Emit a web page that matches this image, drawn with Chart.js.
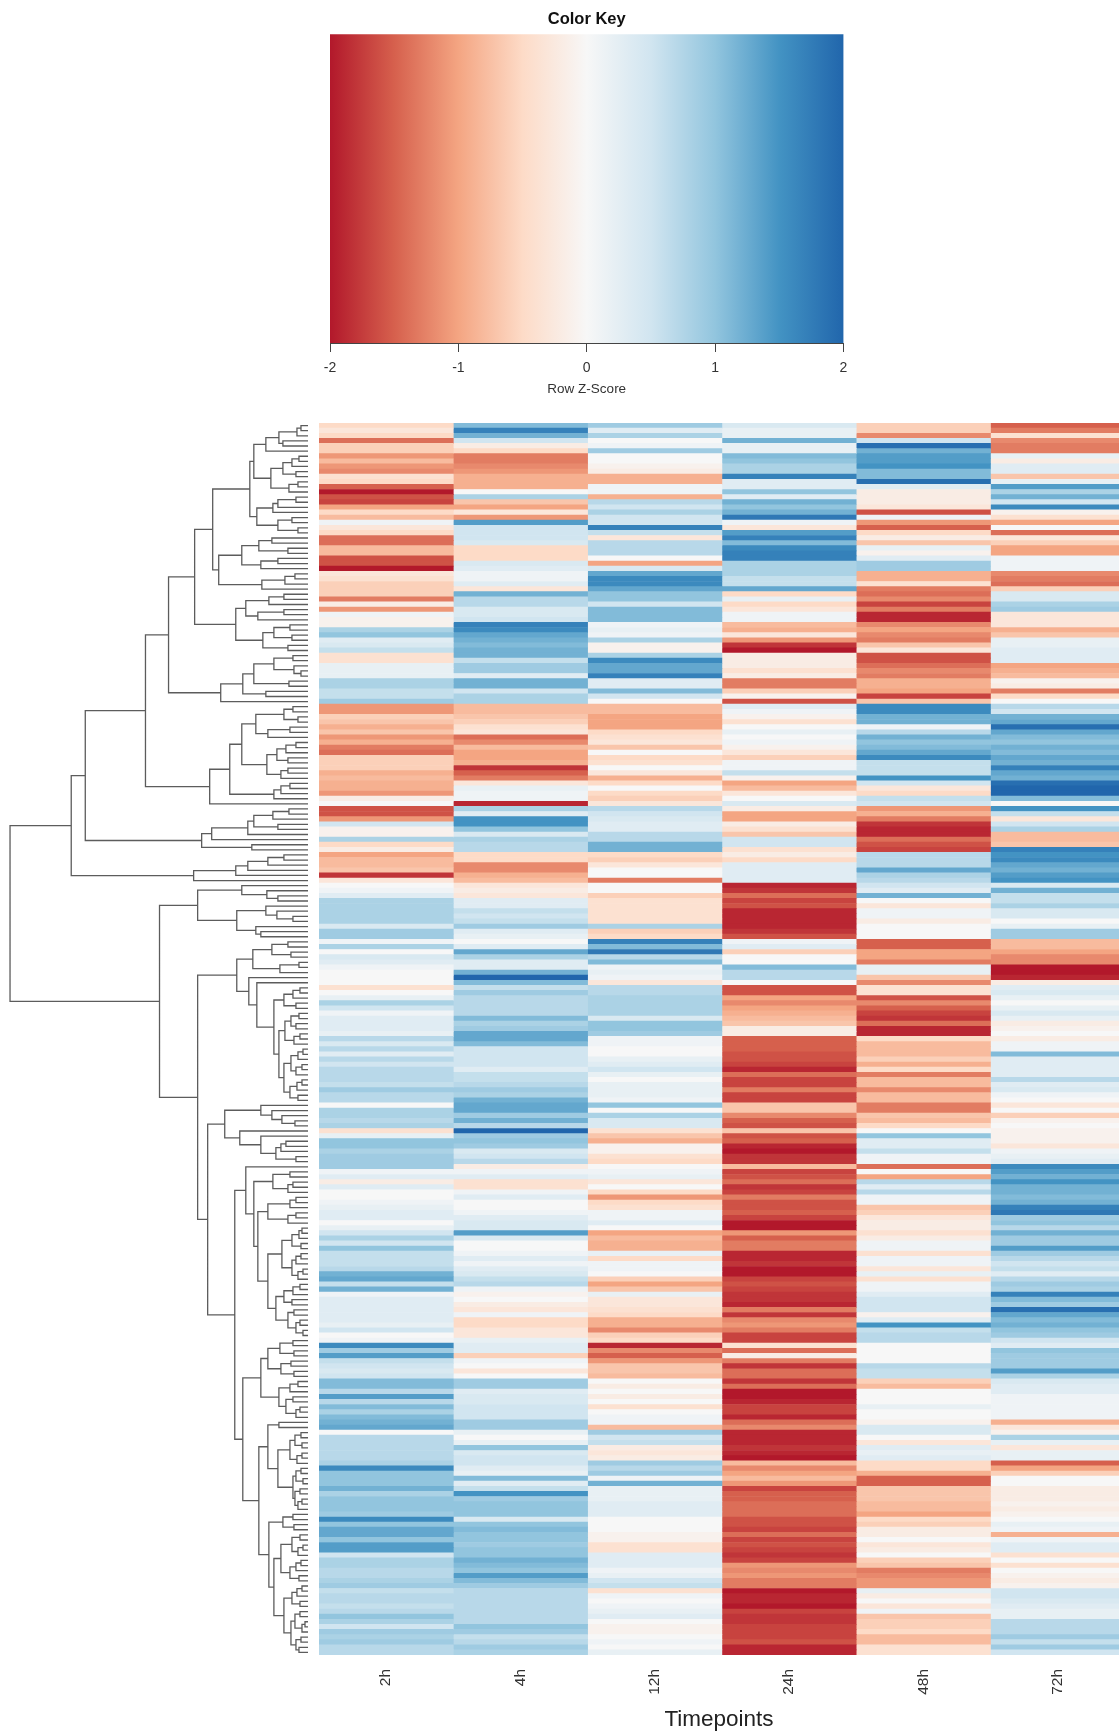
<!DOCTYPE html>
<html>
<head>
<meta charset="utf-8">
<title>Color Key</title>
<script src="https://cdn.jsdelivr.net/npm/chart.js@4/dist/chart.umd.min.js"></script>
<style>
    html, body { margin: 0; padding: 0; background: #fff; overflow: hidden; }
    canvas { position: absolute; filter: blur(0.6px); }
    #key { left: 300px; top: 0; }
    #tree { left: 0; top: 423.3px; }
    #heat { left: 319px; top: 423.3px; }
</style>
</head>
<body>
<canvas id="key" width="575" height="410"></canvas>
<canvas id="tree" width="308" height="1232"></canvas>
<canvas id="heat" width="800" height="1310"></canvas>
<script>
"use strict";

var timepoints = ["2h", "4h", "12h", "24h", "48h", "72h"];

// key stops, z-score and colour
var zStops = [-2, -1.5, -1, -0.5, 0, 0.5, 1, 1.5, 2];
var zColors = ["#b2182b", "#d6604d", "#f4a582", "#fddbc7", "#f7f7f7", "#d1e5f0", "#92c5de", "#4393c3", "#2166ac"];
var keyTicks = [-2, -1, 0, 1, 2];

// row z-scores per timepoint, top row first, ten rows a line
var z2h = [
    -.5,-.3,-.5,-1.4,-.6,-.6,-1.1,-.8,-1.1,-1.2,
    -.4,-.5,-1.5,-2,-1.6,-1.7,-1,-.5,-.8,.1,
    -.3,-.5,-1.4,-1.4,-.8,-.8,-1.6,-1.6,-2,-.3,
    -.4,-.6,-.6,-.6,-1.3,-.2,-1.1,.1,-.1,-.1,
    .8,1,.3,.4,.6,-.4,-.4,.2,.2,.2,
    .8,.8,.6,.6,.9,-1.1,-1.1,-.6,-.7,-.9,
    -.7,-1.1,-.9,-1.3,-1.4,-.6,-.6,-.6,-.9,-.8,
    -.9,-.9,-1.1,-.2,0,-1.6,-1.6,-1.1,.5,-.1,
    -.1,.8,-.5,-.2,-1,-.8,-.8,-.7,-1.8,-.3,
    0,.1,.3,.8,.8,.8,.8,.8,.4,.9,
    .9,.1,.8,0,.4,.3,.1,0,0,0,
    -.4,0,.2,.8,.5,.1,.3,.3,.3,.2,
    .7,.4,.7,.3,.7,.5,.7,.7,.7,.6,
    .9,.7,.7,0,.8,.8,.7,.8,-.4,.2,
    1,1,.8,.9,.9,.9,.1,.3,-.2,.3,
    0,0,.1,.2,.3,.3,0,.2,.5,.8,
    .5,1,.6,.6,.6,.7,1.2,1.3,.6,1.2,
    .1,.3,.3,.3,.3,.3,.2,.5,0,.1,
    1.6,.9,1.4,.6,.5,.4,.5,1.1,1.1,.7,
    1.4,.7,1.1,.8,1.1,1.2,1.3,0,.7,.7,
    .7,.7,.7,.8,1.6,1,1,1,1.2,.8,
    1,1,1,.9,1.6,1,1.3,1.3,1,1.4,
    1.4,.5,.8,.8,.7,.7,.8,.9,.6,.7,
    .7,.6,.7,1,.8,.5,.9,.8,.9,.7,
    .7
];
var z4h = [
    1.1,1.7,1.2,.5,-.2,-.5,-1.3,-1.3,-1.2,-1.1,
    -.9,-.9,-.9,0,.8,-.7,-1,-.3,-1.1,1.4,
    .5,.5,.5,.4,-.5,-.5,-.5,.4,.3,.1,
    .1,.3,-.3,1.2,.7,.7,.4,.4,.5,1.7,
    1.6,1.3,1.2,1.1,1.2,1.2,.6,.9,.9,.3,
    1.2,1.2,.5,.8,.8,-.8,-.8,-.7,-.6,-.4,
    -.3,-1.4,-1.2,-.8,-1,-1,-.9,-1.8,-1.5,-1.3,
    -.3,.2,.1,.1,-1.9,.8,.3,1.5,1.5,1,
    .4,.8,.7,.7,-.5,-.5,-1.2,-1.2,-.9,-.8,
    -.3,-.2,-.3,.3,.3,.6,.5,.6,.9,.3,
    .2,0,.3,1.3,.8,.3,.3,1.2,2,1.1,
    .6,.9,.7,.7,.7,.7,1.1,.8,.9,1.3,
    1.3,1.1,.5,.5,.5,.5,.3,.6,.6,.7,
    .9,.8,1.2,1.3,1.3,.9,1.2,.7,2,.9,
    1,.9,.4,.5,.7,-.2,.1,.3,-.4,-.4,
    .1,.3,0,0,.1,.3,.4,.4,1.4,.4,
    0,0,.1,.3,.1,.3,.4,.6,.7,.1,
    -.1,0,-.2,-.3,.1,-.5,-.5,-.3,-.3,.2,
    .3,.3,-.6,.1,0,-.3,0,.9,.9,.3,
    .4,.4,.5,.5,.5,.9,.9,.2,0,.2,
    1,.4,.5,.5,.3,.2,1.1,.3,.6,1.5,
    .9,1,1,1,.4,1,1.1,1,1,.9,
    1,1,1.2,1.1,1,1.4,1.1,.9,.7,.7,
    .7,.7,.7,.7,.7,1,.9,.6,.7,.9,
    .8
];
var z12h = [
    .9,.3,.8,0,.1,.9,0,0,-.1,-.2,
    -.9,-.9,.1,.1,-.9,.7,.5,.8,.5,.5,
    1.7,.6,-.3,.7,.7,.7,0,-1,.4,1.3,
    1.6,1.6,1.3,1,1,.5,1.1,1.1,1.1,.1,
    .2,.1,.8,-.1,-.1,.8,1.6,1.3,1.3,1.7,
    .3,.3,1.1,.5,0,-.8,-.8,-1,-1,-1,
    -.5,-.4,-.3,-.7,0,-.5,-.4,0,-.3,-.9,
    -.5,0,-.5,-.6,-.3,.7,.5,.4,.3,.3,
    .7,.7,1.2,1.2,-.5,-.6,-.3,0,0,-1.3,
    0,0,-.6,-.4,-.4,-.4,-.4,-.4,.8,-.6,
    -.5,1.7,1.1,1.8,.7,1.1,.1,.2,.1,-.3,
    .7,.7,.8,.8,.8,.8,.4,1,1,.9,
    .1,.1,0,0,.2,.3,.5,.2,0,.2,
    .2,.2,.1,1,0,.8,.4,.4,-.4,-.7,
    -.9,-.1,-.1,-.4,-.5,0,.1,.2,-.3,0,
    -.5,-1.1,-.5,-.4,.1,.1,.3,0,-1,-.8,
    -.9,-.9,.2,-.5,.1,.1,0,-.6,-1,-.7,
    .2,-.3,-.3,-.4,-.5,-.9,-.9,-1.2,-.6,-.5,
    -1.9,-1.2,-1.5,-1.1,-.7,-.7,-.8,0,-.2,0,
    -.2,0,-.4,0,.1,.1,-.8,.9,.5,.6,
    -.2,-.3,-.2,.9,.7,.9,.1,1.2,.2,.2,
    .2,.3,.3,.3,0,0,0,-.1,-.1,-.4,
    -.4,.3,.3,.3,.1,.2,.5,.6,-.4,.1,
    0,.1,.2,.3,0,-.1,-.1,0,.1,0,
    .2
];
var z24h = [
    .4,.2,.2,1.2,.2,.2,1.1,1,.8,.8,
    1.7,.3,.3,1,.3,1.2,1,1.2,1.8,.1,
    -.3,1.4,1.7,1.1,1.6,1.7,1.7,.8,.8,.8,
    .6,.6,1.3,-.5,.2,-.5,-.3,.1,.1,-.8,
    -.9,-.3,-1.1,-1.8,-2,-.2,-.2,-.2,-.4,-.2,
    -1.3,-1.3,-.6,-.1,-1.6,.3,.1,-.1,-.4,0,
    .2,0,.1,-.1,-.3,-.6,.1,.1,.6,-.1,
    -1,-.8,-.3,0,.4,-.2,-1,-1,-.2,-.4,
    -.7,.5,.5,-.4,-.2,-.5,.3,.3,.3,.3,
    -1.9,-1.8,-1.4,-1.7,-1.6,-1.9,-1.9,-1.9,-1.9,-1.8,
    -1.6,.1,.3,-.6,0,0,1.1,.7,.7,0,
    -1.6,-1.6,-1,-1.2,-1,-.9,-.8,-.7,-.2,-.2,
    -1.5,-1.5,-1.5,-1.6,-1.6,-1.7,-1.9,-1.4,-1.7,-1.7,
    -1.3,-1.7,-1.7,-.7,-.7,-1.2,-1.5,-1.6,-.7,-1.6,
    -1.5,-1.9,-2,-1.8,-1.8,-.8,-1.7,-1.6,-1.4,-1.8,
    -1.7,-1.3,-1.6,-1.6,-1.5,-1.7,-2,-2,-1.1,-1.5,
    -1.3,-1.3,-1.9,-1.9,-1.8,-2,-2,-1.7,-1.6,-1.7,
    -1.8,-1.8,-1.9,-1.3,-1.8,-1.2,-1.1,-1.3,-1.7,-1.7,
    -.4,-1.4,-.2,-1.3,-1.8,-1.4,-1.4,-1.8,-1.4,-2,
    -2,-1.9,-1.7,-1.7,-1.9,-1.4,-1.2,-1.9,-1.9,-1.9,
    -1.8,-1.9,-2,-.8,-1.2,-1,-.8,-1.1,-1.7,-1.5,
    -1.5,-1.4,-1.4,-1.4,-1.6,-1.6,-1.7,-1.4,-1.7,-1.6,
    -1.7,-1.8,-1.7,-1.1,-1.2,-1.1,-1.3,-1.3,-2,-1.9,
    -1.9,-2,-1.7,-1.8,-1.8,-1.7,-1.7,-1.7,-1.6,-1.9,
    -1.9
];
var z48h = [
    -.6,-.6,-1.2,.5,1.9,1.2,1.4,1.4,1.5,1.1,
    1.1,1.9,.3,-.2,-.2,-.2,-.3,-1.6,.1,-1.1,
    -1.5,-.5,-.2,-.7,.2,-.1,.3,.9,.9,-.9,
    -.9,-.4,-1.3,-1.4,-1.2,-1.7,-1.3,-1.9,-1.9,-1.2,
    -1,-1.2,-1.3,-.7,-.3,-1.6,-1.6,-1.4,-1.2,-1.3,
    -.9,-.9,-1,-1.7,-.7,1.6,1.6,1.2,1.2,.1,
    .7,1.2,1,1.1,1.3,1.6,.6,.6,.6,1.5,
    .5,-.3,-.5,.6,.5,-1.1,-.9,-1.3,-1.8,-1.9,
    -1.9,-1.4,-1.6,-1.7,.7,.7,.7,1.3,.8,.7,
    .5,.3,1.2,0,-.3,.1,.1,-.2,0,0,
    0,-1.5,-1.5,-1,-1,-1.3,.2,.2,-.7,-1.2,
    -.4,-.4,-1.6,-1.2,-1.5,-1.7,-1.8,-1.4,-1.9,-1.9,
    -.5,-.8,-.8,-.8,-.6,-.9,-.5,-1.3,-.8,-.8,
    -1.2,-.8,-.8,-1.3,-1.3,-.7,-.8,-.5,0,1,
    .3,.3,.6,.1,.1,-1.4,0,-1,.7,.3,
    .7,.1,.1,-.7,-.6,-.3,-.2,-.2,-.4,-.2,
    .1,.1,-.4,.1,.1,-.3,.2,-.4,.1,.1,
    .3,.5,.5,.5,-.1,.3,1.5,.6,.7,.7,
    0,0,0,0,.7,.6,.6,-.6,-.8,0,
    0,0,.2,0,0,-.1,.4,.4,0,-.3,
    .3,.2,.3,-.5,-.5,-.9,-1.5,-1.5,-.7,-.7,
    -.7,-.8,-.8,-1,-.5,-.6,-.2,-.2,0,-.3,
    -.2,0,-.6,-.7,-1.3,-1.2,-1.1,-1.1,.2,-.2,
    0,-.3,.1,-.7,-.6,-.6,-.5,-.8,-.8,-.4,
    -.4
];
var z72h = [
    -1.5,-1.3,-.4,-1.2,-1.3,-1.3,.2,-.2,.3,.3,
    -.7,.2,1.4,.8,1.2,.5,1.6,-.1,-.4,-1,
    0,-1.4,-.3,-.6,-1,-1,.1,.1,.1,-1.2,
    -1.3,-1.4,-.6,.4,.4,.8,.9,-.3,-.3,-.3,
    -.9,-.7,.2,.2,.3,.3,.3,-1,-.9,-.8,
    -.1,-.2,-1.3,-.5,0,.7,.5,1.2,1.3,1.9,
    1.3,1.1,1,1.2,1.1,1.3,1.2,1.7,1.3,1.2,
    1.9,2,2,1.1,0,1.5,.6,-.3,.5,.8,
    -.8,-.8,-.7,1.7,1.5,1.6,1.3,1.2,1.4,1.5,
    .4,1.2,.6,.6,.8,.4,.4,0,.2,.9,
    .9,-.8,-.8,-1,-1.2,-1.2,-2,-2,-1.9,-.2,
    .3,.4,.2,0,.2,.4,.2,-.2,-.1,0,
    -.2,.1,.1,1.1,.3,.3,.3,.3,.7,.3,
    .4,.1,0,-.3,0,-.6,-.1,0,-.1,-.1,
    -.1,-.3,.1,.2,.3,1.6,1.4,1.2,1.5,1.2,
    1.2,1.1,1.2,1.7,1.8,.9,1,.7,1.2,.9,
    .9,1.4,.9,.7,.5,.6,.3,.7,.9,.8,
    1.7,1.1,.9,1.9,1.3,1.1,1.2,1,.9,.5,
    .3,1,.9,.9,.9,1.4,.8,.4,.3,.3,
    .1,.1,.1,.1,.1,-.9,-.3,-.1,.8,.2,
    -.3,.2,.2,-1.5,-1,-.6,0,0,-.2,-.2,
    -.2,-.1,-.2,-.1,0,.2,.1,-.9,.1,.3,
    .3,-.4,0,-.4,0,-.1,-.2,-.1,.5,.5,
    .4,.3,.2,.2,.7,.7,.7,.9,.6,.9,
    .5
];
var columns = [z2h, z4h, z12h, z24h, z48h, z72h];

// row dendrogram: [merge height, upper child, lower child], a leaf is 0
var treeTop = [236,
    [222,
        [162,
            [139,
                [113,
                    [95,
                        [58,
                            [54,
                                [42, [29, [11, [7, 0, 0], 0], [25, 0, 0]], 0],
                                [37, [25, [16, [9, 0, 0], 0], [12, 0, 0]], [19, [10, 0, 0], 0]]],
                            [51, [35, [30, [12, 0, 0], 0], 0], [30, [16, 0, 0], [10, 0, 0]]]],
                        [89,
                            [66, [49, [36, 0, 0], [20, 0, 0]], [47, [30, 0, 0], 0]],
                            [46, [23, [13, 0, 0], 0], 0]]],
                    [72,
                        [62, [39, [24, 0, 0], 0], [50, [24, 0, 0], 0]],
                        [45, [34, [18, 0, 0], [16, 0, 0]], [20, 0, 0]]]],
                [87,
                    [65,
                        [54, [34, [15, 0, 0], [14, 0, [7, 0, 0]]], [19, 0, 0]],
                        [42, 0, 0]],
                    0]],
            [98,
                [78,
                    [66,
                        [52, [24, [15, 0, 0], [10, 0, 0]], [40, [18, 0, 0], 0]],
                        [41, [31, [22, [12, 0, 0], 0], [20, 0, 0]], [27, [20, 0, 0], 0]]],
                    [34, [27, [18, 0, 0], 0], 0]],
                0]],
        [106,
            [96, [60, [54, [35, [19, 0, 0], 0], [30, 0, 0]], 0], 0],
            [56, 0, 0]]],
    [114, [72, [60, [40, [24, 0, 0], 0], 0], 0], 0]];

var treeLower = [148,
    [110,
        [66, 0, [41, 0, [30, 0, 0]]],
        [71, [42, 0, [31, 0, [15, 0, 0]]], [52, 0, [47, 0, 0]]]],
    [110,
        [71,
            [55, [36, [20, 0, 0], [17, 0, 0]], [28, [9, 0, 0], 0]],
            [59, 0, [51, 0, [34,
                [24, [15, [8, 0, 0], 0], [12, 0, 0]],
                [29,
                    [23, [17, [9, 0, 0], [12, 0, 0]], [14, [8, 0, 0], 0]],
                    [24,
                        [17, [10, [5, 0, 0], 0], [12, [6, 0, 0], 0]],
                        [18, [11, [6, 0, 0], 0], [10, 0, 0]]]]]]]],
        [100,
            [83,
                [47, 0, [36, 0, [26, 0, [13, 0, 0]]]],
                [68, 0, [47, 0, [32, [27, [22, 0, 0], 0], [12, 0, 0]]]]],
            [73,
                [62, 0, [54,
                    [35, [18, 0, 0], [20, [15, 0, 0], 0]],
                    [50,
                        [40, [18, [12, 0, 0], 0], [20, [12, 0, 0], 0]],
                        [40,
                            [26, [16, [9, [6, 0, 0], 0], [7, 0, 0]], [16, [12, [7, 0, 0], 0], [10, [5, 0, 0], 0]]],
                            [32, [24, [15, [8, 0, 0], 0], [16, 0, 0]], [20, [14, 0, 0], [12, [8, 0, 0], [5, 0, 0]]]]]]]],
                [65,
                    [47,
                        [40, [28, [15, 0, 0], [14, 0, 0]], [27, [17, 0, 0], [14, 0, 0]]],
                        [29, [18, [10, 0, 0], 0], [22, [15, 0, 0], [12, [8, 0, 0], 0]]]],
                    [49,
                        [40, [29, 0, 0], [30,
                            [18, [13, [7, 0, 0], [6, 0, 0]], [11, [6, 0, 0], 0]],
                            [15, [12, [7, 0, 0], [5, 0, 0]], [13, [8, 0, 0], [10, [6, 0, 0], 0]]]]],
                        [39,
                            [25, [15, 0, 0], [14, 0, 0]],
                            [34,
                                [27, [16, [8, 0, 0], [10, [5, 0, 0], 0]], [18, [12, [7, 0, 0], 0], [9, 0, 0]]],
                                [24, [16, [11, [6, 0, 0], 0], [8, 0, 0]], [17, [13, [8, 0, 0], [6, [3, 0, 0], 0]], [12, [7, 0, 0], [9, 0, 0]]]]]]]]]]]];

var treeRoot = [297, treeTop, treeLower];

var rowLabels = z2h.map(function (v, i) { return i + 1; });
var treeMaxHeight = 307;
var visibleColumns = 5.957; // the last column runs off the right edge of the page

var FONT = "'Liberation Sans', Arial, sans-serif";

function hexToRgb(hex) {
    return [1, 3, 5].map(function (i) { return parseInt(hex.substr(i, 2), 16); });
}

/**
 * Colour of a z-score on the red to blue key.
 */
function zColor(z) {
    var v = Math.max(zStops[0], Math.min(zStops[zStops.length - 1], z));
    var i = 0;
    while (i < zStops.length - 2 && v > zStops[i + 1]) {
        i++;
    }
    var t = (v - zStops[i]) / (zStops[i + 1] - zStops[i]);
    var a = hexToRgb(zColors[i]);
    var b = hexToRgb(zColors[i + 1]);
    return "rgb(" + a.map(function (c, k) { return Math.round(c + (b[k] - c) * t); }).join(",") + ")";
}

/**
 * Walks the tree and pushes its brackets, leaves are numbered from the top.
 */
function walkTree(node, state) {
    if (node === 0) {
        state.leaf++;
        return { h: 0, y: state.leaf - 0.5 };
    }
    var a = walkTree(node[1], state);
    var b = walkTree(node[2], state);
    state.points.push(
        { x: a.h, y: a.y },
        { x: node[0], y: a.y },
        { x: node[0], y: b.y },
        { x: b.h, y: b.y },
        { x: NaN, y: NaN }
    );
    return { h: node[0], y: (a.y + b.y) / 2 };
}

var treeState = { leaf: 0, points: [] };
walkTree(treeRoot, treeState);

new Chart(document.getElementById("key"), {
    type: "bar",
    data: {
        labels: ["Row Z-Score"],
        datasets: [{
            data: [[zStops[0], zStops[zStops.length - 1]]],
            borderWidth: 0,
            barPercentage: 1,
            categoryPercentage: 1,
            backgroundColor: function (ctx) {
                var chart = ctx.chart;
                if (!chart.chartArea) {
                    return zColors[4];
                }
                var scale = chart.scales.x;
                var gradient = chart.ctx.createLinearGradient(scale.left, 0, scale.right, 0);
                zStops.forEach(function (z, i) {
                    gradient.addColorStop((z - zStops[0]) / (zStops[zStops.length - 1] - zStops[0]), zColors[i]);
                });
                return gradient;
            }
        }]
    },
    options: {
        indexAxis: "y",
        responsive: false,
        animation: false,
        layout: { padding: { left: 30, right: 31.5 } },
        plugins: {
            legend: { display: false },
            tooltip: { enabled: false },
            title: {
                display: true,
                text: "Color Key",
                color: "#111",
                font: { family: FONT, size: 16.5, weight: "bold" },
                padding: { top: 10, bottom: 4.5 }
            }
        },
        scales: {
            x: {
                type: "linear",
                min: keyTicks[0],
                max: keyTicks[keyTicks.length - 1],
                afterBuildTicks: function (scale) {
                    scale.ticks = keyTicks.map(function (v) { return { value: v }; });
                },
                afterFit: function (scale) { scale.height = 67; },
                grid: { drawOnChartArea: false, tickLength: 9, color: "#444" },
                border: { color: "#444" },
                ticks: { color: "#333", font: { family: FONT, size: 14 }, padding: 8, maxRotation: 0 },
                title: {
                    display: true,
                    text: "Row Z-Score",
                    color: "#333",
                    font: { family: FONT, size: 13.5 },
                    padding: { top: 0, bottom: 13 }
                }
            },
            y: { display: false }
        }
    }
});

new Chart(document.getElementById("tree"), {
    type: "scatter",
    data: {
        datasets: [{
            data: treeState.points,
            showLine: true,
            spanGaps: false,
            pointRadius: 0,
            borderColor: "#5c5c5c",
            borderWidth: 1.3
        }]
    },
    options: {
        responsive: false,
        animation: false,
        plugins: { legend: { display: false }, tooltip: { enabled: false } },
        scales: {
            x: { display: false, reverse: true, min: 0, max: treeMaxHeight },
            y: { display: false, reverse: true, min: 0, max: rowLabels.length }
        }
    }
});

new Chart(document.getElementById("heat"), {
    type: "bar",
    data: {
        labels: rowLabels,
        datasets: columns.map(function (values, c) {
            return {
                label: timepoints[c],
                data: values.map(function () { return 1; }),
                backgroundColor: function (ctx) { return zColor(values[ctx.dataIndex]); },
                borderWidth: 0,
                barPercentage: 1,
                categoryPercentage: 1
            };
        })
    },
    options: {
        indexAxis: "y",
        responsive: false,
        animation: false,
        plugins: { legend: { display: false }, tooltip: { enabled: false } },
        scales: {
            x: {
                type: "linear",
                stacked: true,
                min: 0,
                max: visibleColumns,
                afterBuildTicks: function (scale) {
                    scale.ticks = timepoints.map(function (t, i) { return { value: i + 0.5 }; });
                },
                afterFit: function (scale) { scale.height = 78; },
                grid: { display: false, drawTicks: false },
                border: { display: false },
                ticks: {
                    color: "#333",
                    font: { family: FONT, size: 15.5 },
                    padding: 14,
                    autoSkip: false,
                    minRotation: 90,
                    maxRotation: 90,
                    callback: function (value, index) { return timepoints[index]; }
                },
                title: {
                    display: true,
                    text: "Timepoints",
                    color: "#222",
                    font: { family: FONT, size: 22.5 },
                    padding: { top: 0, bottom: 0 }
                }
            },
            y: { display: false, stacked: true }
        }
    }
});
</script>
</body>
</html>
